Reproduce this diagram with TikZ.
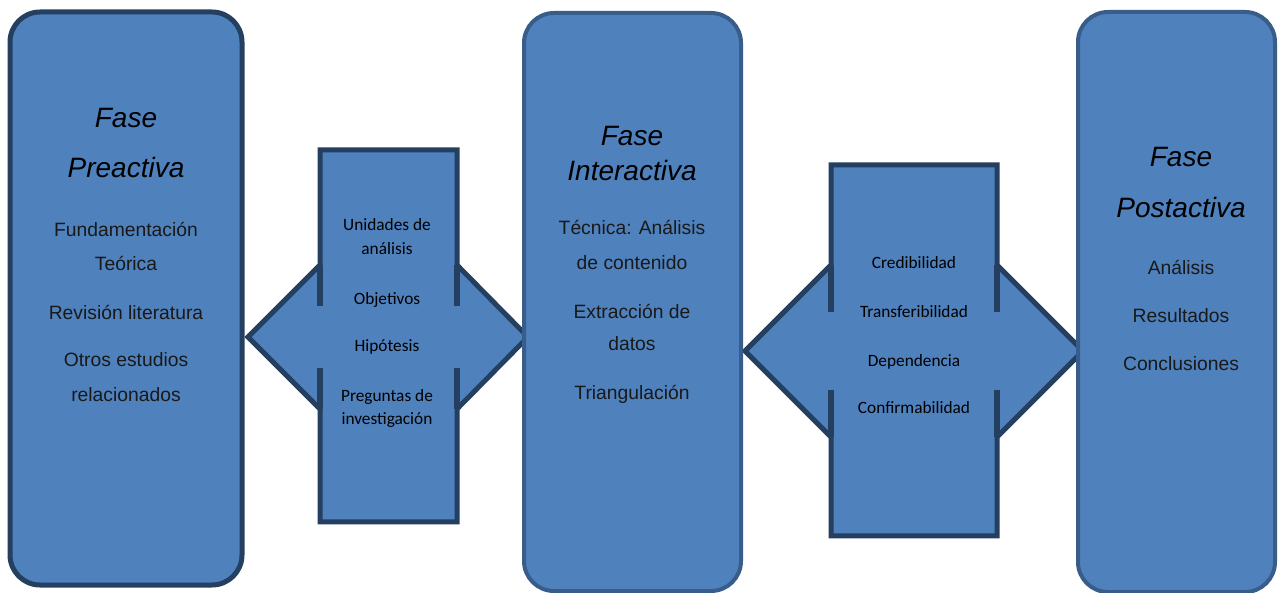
\documentclass[tikz,border=0pt]{standalone}
\usepackage{fontspec}
\setmainfont{Liberation Sans}
\newfontfamily\notefont{Carlito}
\usetikzlibrary{positioning}

\definecolor{boxfill}{HTML}{4F81BD}
\definecolor{darkline}{HTML}{243F60}
\definecolor{lightline}{HTML}{385D8A}

\tikzset{
  phasebox/.style={draw=lightline, fill=boxfill, line width=4pt, rounded corners=30pt, inner sep=0pt},
  arrowfill/.style={draw=darkline, fill=boxfill, line width=5pt, line join=miter},
  arrowstub/.style={draw=darkline, line width=6pt},
  phasetitle/.style={font=\fontsize{28}{30}\selectfont\itshape, anchor=base, text=black},
  phaseitem/.style={font=\fontsize{19.3}{21}\selectfont, anchor=base, text=black!90},
  noteitem/.style={font=\notefont\fontsize{17.3}{19}\selectfont, anchor=base, text=black},
}

\begin{document}
\begin{tikzpicture}[x=1pt,y=-1pt]
\useasboundingbox (0,0) rectangle (1278,593);

% double arrows between the phases
\filldraw[arrowfill] (320,150) -- (457,150) -- (457,265) -- (528,337) -- (457,409) -- (457,522)
  -- (320,522) -- (320,409) -- (248,337) -- (320,265) -- cycle;
\draw[arrowstub] (320,265) -- (320,306) (320,368) -- (320,409) (457,265) -- (457,306) (457,368) -- (457,409);

\filldraw[arrowfill] (831,165) -- (997,165) -- (997,265) -- (1083,351) -- (997,437) -- (997,536)
  -- (831,536) -- (831,437) -- (745,351) -- (831,265) -- cycle;
\draw[arrowstub] (831,265) -- (831,312) (831,390) -- (831,437) (997,265) -- (997,312) (997,390) -- (997,437);

% phase boxes
\node[phasebox, draw=darkline, line width=5pt, minimum width=232pt, minimum height=573pt] (preactiva) at (126,298.5) {};
\node[phasebox, minimum width=217pt, minimum height=578pt] (interactiva) at (632.5,302) {};
\node[phasebox, minimum width=197pt, minimum height=580pt] (postactiva) at (1176.5,302) {};

% texts
\node[phasetitle] (pre-a) at (126,128) {Fase};
\node[phasetitle] (pre-b) at (126,178) {Preactiva};
\node[phaseitem] (pre-1) at (126,237) {Fundamentación};
\node[phaseitem] (pre-2) at (126,271) {Teórica};
\node[phaseitem] (pre-3) at (126,320) {Revisión literatura};
\node[phaseitem] (pre-4) at (126,367) {Otros estudios};
\node[phaseitem] (pre-5) at (126,402) {relacionados};

\node[noteitem] (uni-1) at (387,231) {Unidades de};
\node[noteitem] (uni-2) at (387,255) {análisis};
\node[noteitem] (obj) at (387,305) {Objetivos};
\node[noteitem] (hip) at (387,352) {Hipótesis};
\node[noteitem] (pre-q1) at (387,402) {Preguntas de};
\node[noteitem] (pre-q2) at (387,425) {investigación};

\node[phasetitle] (int-a) at (632,146) {Fase};
\node[phasetitle] (int-b) at (632,181) {Interactiva};
\node[phaseitem] (int-1) at (632,235) {Técnica: Análisis};
\node[phaseitem] (int-2) at (632,270) {de contenido};
\node[phaseitem] (int-3) at (632,319) {Extracción de};
\node[phaseitem] (int-4) at (632,351) {datos};
\node[phaseitem] (int-5) at (632,400) {Triangulación};

\node[noteitem] (cre) at (914,269) {Credibilidad};
\node[noteitem] (tra) at (914,318) {Transferibilidad};
\node[noteitem] (dep) at (914,367) {Dependencia};
\node[noteitem] (con) at (914,414) {Confirmabilidad};

\node[phasetitle] (post-a) at (1181,167) {Fase};
\node[phasetitle] (post-b) at (1181,218) {Postactiva};
\node[phaseitem] (post-1) at (1181,275) {Análisis};
\node[phaseitem] (post-2) at (1181,323) {Resultados};
\node[phaseitem] (post-3) at (1181,371) {Conclusiones};
\end{tikzpicture}
\end{document}
